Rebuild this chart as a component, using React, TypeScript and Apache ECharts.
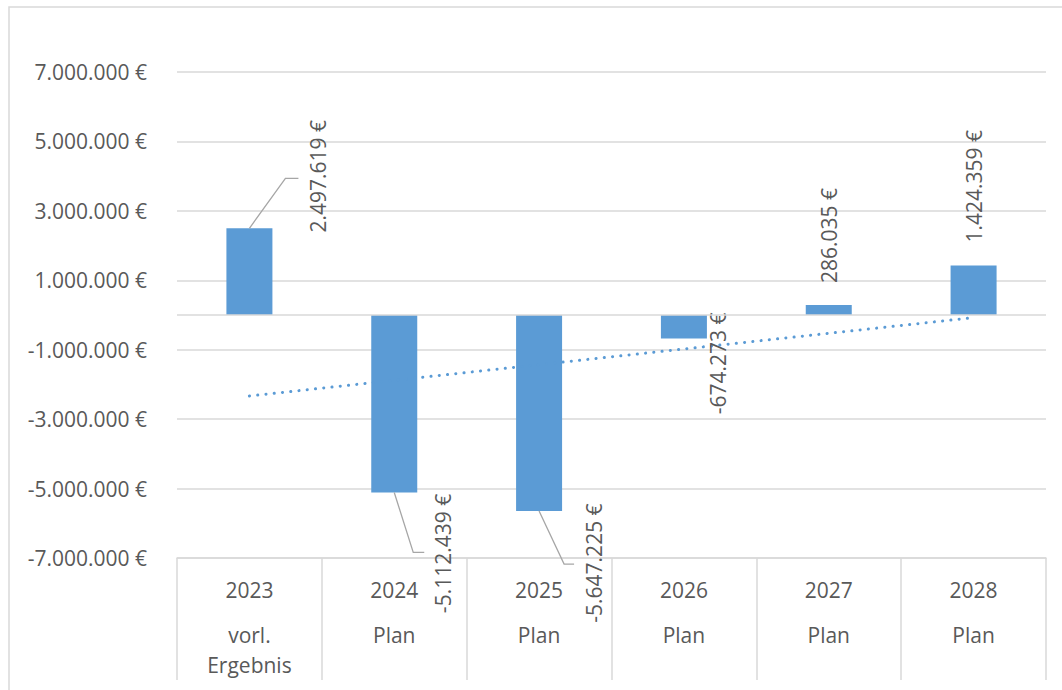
import React, { useEffect, useRef } from "react";
import * as echarts from "echarts";

const years = ["2023", "2024", "2025", "2026", "2027", "2028"];
const phases = ["vorl.\nErgebnis", "Plan", "Plan", "Plan", "Plan", "Plan"];
const values = [2497619, -5112439, -5647225, -674273, 286035, 1424359];
// linear trend line at first and last category
const trendValues = [-2333000, null, null, null, null, -75600];
const yTicks = { min: -7000000, max: 7000000, interval: 2000000 };

// label placement (offset of the label from the bar end, in px)
const labelPlacements = [
  { dx: 69, dy: -52, align: "center", leader: [[36, -50], [49, -50]] },
  { dx: 49, dy: 61, align: "center", leader: [[19, 60], [30, 60]] },
  { dx: 55, dy: 52, align: "center", leader: [[25, 53], [35, 53]] },
  { dx: 34, dy: 25, align: "center", leader: null },
  { dx: 0, dy: -22, align: "left", leader: null },
  { dx: 0, dy: -23, align: "left", leader: null },
];

const TEXT = "#595959";
const GRID = "#D9D9D9";
const BLUE = "#5B9BD5";
const FONT = "'Open Sans', 'Noto Sans', sans-serif";

function fmt(v: number): string {
  const s = Math.round(Math.abs(v))
    .toString()
    .replace(/\B(?=(\d{3})+(?!\d))/g, ".");
  return (v < 0 ? "-" : "") + s + " €";
}

export default function App() {
  const ref = useRef<HTMLDivElement>(null);
  useEffect(() => {
    if (!ref.current) return;
    const chart = echarts.init(ref.current, undefined, { renderer: "svg" });
    chart.setOption({
      animation: false,
      backgroundColor: "#ffffff",
      graphic: [
        {
          type: "rect",
          silent: true,
          shape: { x: 9, y: 7, width: 1200, height: 800 },
          style: { fill: "none", stroke: GRID, lineWidth: 1.5 },
        },
      ],
      grid: { left: 177, right: 16, top: 72, bottom: 132 },
      xAxis: {
        type: "category",
        data: years,
        position: "bottom",
        axisLine: { show: true, onZero: false, lineStyle: { color: GRID, width: 1.5 } },
        axisTick: { show: true, length: 122, interval: 0, lineStyle: { color: GRID, width: 1.5 } },
        axisLabel: {
          interval: 0,
          margin: 2,
          formatter: (v: string, i: number) =>
            `{y|${v}}\n` + phases[i].split("\n").map((p) => `{t|${p}}`).join("\n"),
          rich: {
            y: { fontSize: 21, lineHeight: 60, color: TEXT, fontFamily: FONT },
            t: { fontSize: 21, lineHeight: 30, color: TEXT, fontFamily: FONT },
          },
        },
      },
      yAxis: {
        type: "value",
        min: yTicks.min,
        max: yTicks.max,
        interval: yTicks.interval,
        axisLine: { show: false },
        axisTick: { show: false },
        axisLabel: {
          margin: 30,
          color: TEXT,
          fontSize: 21,
          fontFamily: FONT,
          formatter: (v: number) => fmt(v),
        },
        splitLine: { lineStyle: { color: GRID, width: 1.5 } },
      },
      series: [
        {
          type: "bar",
          data: values,
          barWidth: 46,
          itemStyle: { color: BLUE },
          markLine: {
            silent: true,
            symbol: "none",
            label: { show: false },
            lineStyle: { color: GRID, width: 1.5, type: "solid" },
            data: [{ yAxis: 0 }],
          },
          z: 2,
        },
        {
          type: "line",
          data: trendValues,
          connectNulls: true,
          symbol: "none",
          silent: true,
          lineStyle: { color: BLUE, width: 3, type: [0.1, 8.2], cap: "round" },
          z: 3,
        },
        {
          type: "custom",
          data: values.map((v, i) => [i, v]),
          z: 4,
          silent: true,
          clip: false,
          renderItem: (params: any, api: any) => {
            const i = params.dataIndex;
            const v = api.value(1);
            const p = api.coord([i, v]);
            const lp = labelPlacements[i];
            const children: any[] = [];
            if (lp.leader) {
              const pts = [[p[0], p[1]]].concat(
                lp.leader.map((d: number[]) => [p[0] + d[0], p[1] + d[1]])
              );
              children.push({
                type: "polyline",
                shape: { points: pts },
                style: { stroke: "#A6A6A6", lineWidth: 1.3, fill: null },
              });
            }
            children.push({
              type: "text",
              x: p[0] + lp.dx,
              y: p[1] + lp.dy,
              rotation: Math.PI / 2,
              style: {
                text: fmt(v),
                fill: TEXT,
                fontSize: 21,
                fontFamily: FONT,
                align: lp.align,
                verticalAlign: "middle",
              },
            });
            return { type: "group", children };
          },
        },
      ],
    });
    return () => chart.dispose();
  }, []);
  return (
    <div
      ref={ref}
      style={{ position: "fixed", left: 0, top: 0, width: 1062, height: 690 }}
    />
  );
}
